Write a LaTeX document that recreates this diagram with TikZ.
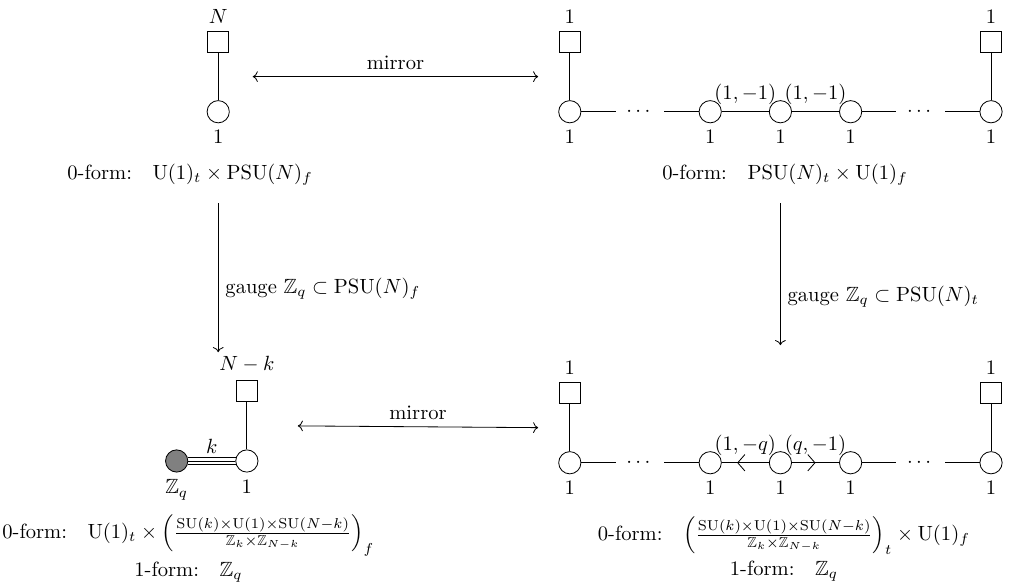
\documentclass[tikz,border=0pt]{standalone}
\usepackage{amsmath,amssymb}
\usetikzlibrary{calc,positioning,arrows.meta,decorations.markings}
\tikzset{
  gnode/.style={draw, circle, fill=white, minimum size=0.38cm, inner sep=0pt},
  fnode/.style={draw, rectangle, minimum size=0.36cm, inner sep=0pt},
  znode/.style={gnode, fill=gray},
  dotsn/.style={inner sep=5pt},
  mirr/.style={<->},
  gmap/.style={->, shorten <=5pt},
  revmid/.style={postaction={decorate},
    decoration={markings, mark=at position 0.5 with
      {\arrow{Straight Barb[reversed, length=3.5pt, width=8pt]}}}},
  fwdmid/.style={postaction={decorate},
    decoration={markings, mark=at position 0.5 with
      {\arrow{Straight Barb[length=3.5pt, width=8pt]}}}},
}

\begin{document}
\begin{tikzpicture}[on grid, node distance=1.2cm]
  \useasboundingbox (0,0) rectangle (17.35,-10.0);

  % U(1) with N flavours
  \node[gnode, label=below:$1$] (tl) at (3.73,-1.91) {};
  \node[fnode, above=of tl, label=above:$N$] (tlf) {};
  \draw (tl) -- (tlf);

  % abelian chain, top right
  \node[gnode, label=below:$1$] (a1) at (9.74,-1.91) {};
  \node[dotsn, right=of a1] (ad1) {$\cdots$};
  \node[gnode, right=of ad1, label=below:$1$] (a2) {};
  \node[gnode, right=of a2, label=below:$1$] (a3) {};
  \node[gnode, right=of a3, label=below:$1$] (a4) {};
  \node[dotsn, right=of a4] (ad2) {$\cdots$};
  \node[gnode, right=of ad2, label=below:$1$] (a5) {};
  \node[fnode, above=of a1, label=above:$1$] (af1) {};
  \node[fnode, above=of a5, label=above:$1$] (af5) {};
  \draw (af1) -- (a1) -- (ad1) -- (a2)
    -- node[above] {$(1,-1)$} (a3)
    -- node[above] {$(1,-1)$} (a4) -- (ad2) -- (a5) -- (af5);

  \coordinate (m1l) at ($(tl)!0.5!(tlf)+(0.59,0)$);
  \coordinate (m1r) at ($(a1)!0.5!(af1)-(0.54,0)$);
  \draw[mirr] (m1l) -- node[above] {mirror} (m1r);

  % symmetries before gauging
  \node (t0) at (3.25,-2.99)
    {0-form:\quad$\mathrm{U}(1)_t\times\mathrm{PSU}(N)_f$};
  \node (t1) at (13.42,-2.99)
    {0-form:\quad$\mathrm{PSU}(N)_t\times\mathrm{U}(1)_f$};

  \coordinate (g0) at (3.73,-6.02);
  \coordinate (g1) at (13.34,-5.90);
  \draw[gmap] (t0.south -| tl) -- node[right, pos=0.6] {gauge $\mathbb{Z}_q\subset\mathrm{PSU}(N)_f$} (g0);
  \draw[gmap] (t1.south -| a3) -- node[right, pos=0.68] {gauge $\mathbb{Z}_q\subset\mathrm{PSU}(N)_t$} (g1);

  % gauged theory, bottom left
  \node[gnode, label=below:$1$] (bl) at (4.22,-7.88) {};
  \node[znode, left=of bl, label=below:$\mathbb{Z}_q$] (bz) {};
  \node[fnode, above=of bl, label=above:$N-k$] (blf) {};
  \draw (bl) -- (blf);
  \draw (bz.17) -- (bl.163);
  \draw (bz) -- node[above] {$k$} (bl);
  \draw (bz.-17) -- (bl.-163);

  % gauged chain, bottom right
  \node[gnode, label=below:$1$] (b1) at (9.74,-7.91) {};
  \node[dotsn, right=of b1] (bd1) {$\cdots$};
  \node[gnode, right=of bd1, label=below:$1$] (b2) {};
  \node[gnode, right=of b2, label=below:$1$] (b3) {};
  \node[gnode, right=of b3, label=below:$1$] (b4) {};
  \node[dotsn, right=of b4] (bd2) {$\cdots$};
  \node[gnode, right=of bd2, label=below:$1$] (b5) {};
  \node[fnode, above=of b1, label=above:$1$] (bf1) {};
  \node[fnode, above=of b5, label=above:$1$] (bf5) {};
  \draw (bf1) -- (b1) -- (bd1) -- (b2);
  \draw[revmid] (b2) -- node[above] {$(1,-q)$} (b3);
  \draw[fwdmid] (b3) -- node[above] {$(q,-1)$} (b4);
  \draw (b4) -- (bd2) -- (b5) -- (bf5);

  \coordinate (m2l) at ($(bl)!0.5!(blf)+(0.87,0)$);
  \coordinate (m2r) at ($(b1)!0.5!(bf1)-(0.54,0)$);
  \draw[mirr] (m2l) -- node[above] {mirror} (m2r);

  % symmetries after gauging
  \node[align=center, inner sep=0pt] (s0) at (3.22,-9.38)
    {0-form:\quad$\mathrm{U}(1)_t\times\left(\frac{\mathrm{SU}(k)\times\mathrm{U}(1)\times\mathrm{SU}(N-k)}{\mathbb{Z}_k\times\mathbb{Z}_{N-k}}\right)_f$\\[2pt]
     1-form:\quad$\mathbb{Z}_q$};
  \node[align=center, inner sep=0pt] (s1) at (13.4,-9.38)
    {0-form:\quad$\left(\frac{\mathrm{SU}(k)\times\mathrm{U}(1)\times\mathrm{SU}(N-k)}{\mathbb{Z}_k\times\mathbb{Z}_{N-k}}\right)_t\times\mathrm{U}(1)_f$\\[2pt]
     1-form:\quad$\mathbb{Z}_q$};
\end{tikzpicture}
\end{document}
